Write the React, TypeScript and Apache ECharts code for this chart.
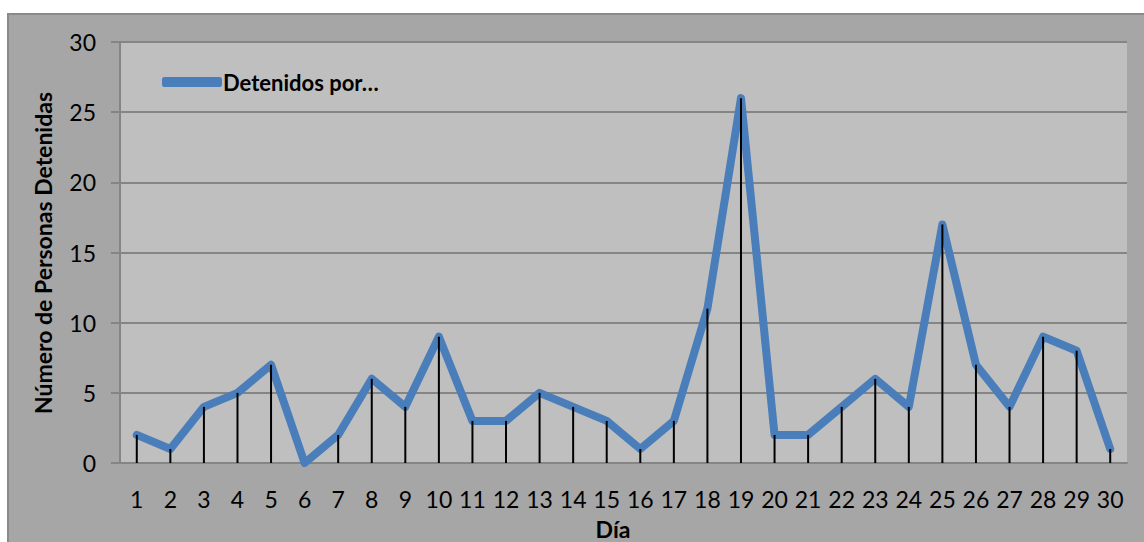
import React, { useEffect, useRef } from "react";
import * as echarts from "echarts";

const days = ["1","2","3","4","5","6","7","8","9","10","11","12","13","14","15","16","17","18","19","20","21","22","23","24","25","26","27","28","29","30"];
const detenidos = [2,1,4,5,7,0,2,6,4,9,3,3,5,4,3,1,3,11,26,2,2,4,6,4,17,7,4,9,8,1];
const seriesName = "Detenidos por…";
const yTitle = "Número de Personas Detenidas";
const xTitle = "Día";

export default function App() {
  const ref = useRef<HTMLDivElement>(null);
  useEffect(() => {
    document.body.style.margin = "0";
    const chart = echarts.init(ref.current!, null, { renderer: "svg" });
    const font = "Lato, 'Open Sans', sans-serif";
    chart.setOption({
      animation: false,
      backgroundColor: "#ffffff",
      graphic: [
        {
          type: "rect",
          z: -10,
          silent: true,
          shape: { x: 8, y: 14, width: 1145, height: 540 },
          style: { fill: "#a6a6a6", stroke: "#8a8a8a", lineWidth: 2 },
        },
        {
          type: "text",
          x: 43,
          y: 253,
          rotation: Math.PI / 2,
          style: {
            text: yTitle,
            font: `bold 23px ${font}`,
            fill: "#000",
            align: "center",
            verticalAlign: "middle",
          },
        },
        {
          type: "text",
          x: 613,
          y: 529,
          style: {
            text: xTitle,
            font: `bold 23px ${font}`,
            fill: "#000",
            align: "center",
            verticalAlign: "middle",
          },
        },
      ],
      grid: {
        left: 120,
        right: 17,
        top: 42,
        bottom: 79,
        show: true,
        backgroundColor: "#bfbfbf",
        borderWidth: 0,
      },
      legend: {
        show: true,
        left: 157,
        top: 66,
        itemWidth: 60,
        itemHeight: 10,
        itemGap: 0,
        icon: "roundRect",
        data: [{ name: seriesName, icon: "roundRect", itemStyle: { color: "#4a7ebb" } }],
        textStyle: { fontFamily: font, fontWeight: "bold", fontSize: 22, color: "#000", padding: [0, 0, 0, -4] },
      },
      xAxis: {
        type: "category",
        data: days,
        boundaryGap: true,
        axisLine: { show: true, lineStyle: { color: "#858585", width: 2 } },
        axisTick: { show: false },
        axisLabel: { fontFamily: font, fontSize: 23, color: "#000", margin: 24, interval: 0 },
        splitLine: { show: false },
      },
      yAxis: {
        type: "value",
        min: 0,
        max: 30,
        interval: 5,
        axisLine: { show: true, lineStyle: { color: "#858585", width: 2 } },
        axisTick: { show: true, length: 9, lineStyle: { color: "#858585", width: 2 } },
        axisLabel: { fontFamily: font, fontSize: 23, color: "#000", margin: 24 },
        splitLine: { show: true, lineStyle: { color: "#858585", width: 2 } },
      },
      series: [
        {
          name: seriesName,
          type: "line",
          data: detenidos,
          symbol: "none",
          z: 2,
          lineStyle: { color: "#4a7ebb", width: 8, cap: "round", join: "round" },
          itemStyle: { color: "#4a7ebb" },
        },
        {
          name: "drop",
          type: "bar",
          data: detenidos,
          barWidth: 2,
          z: 3,
          itemStyle: { color: "#000000" },
          silent: true,
        },
      ],
    });
    return () => chart.dispose();
  }, []);
  return <div ref={ref} style={{ width: 1144, height: 542 }} />;
}
